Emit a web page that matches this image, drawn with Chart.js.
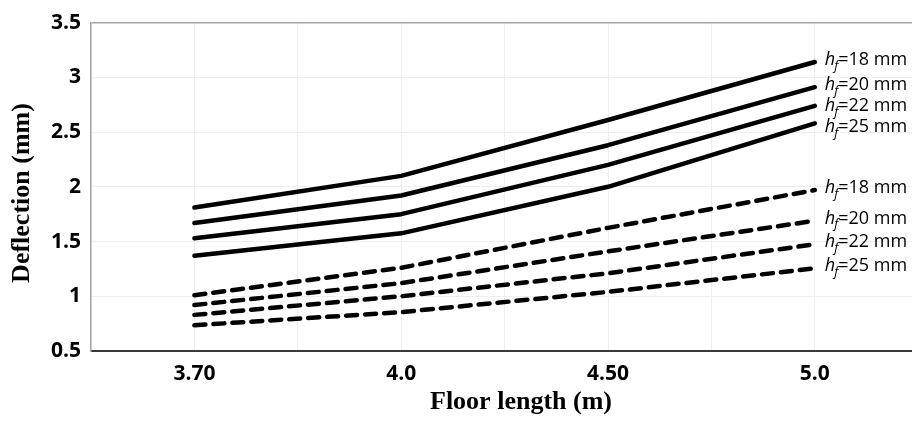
<!DOCTYPE html>
<html>
<head>
<meta charset="utf-8">
<script src="https://cdn.jsdelivr.net/npm/chart.js@4/dist/chart.umd.min.js"></script>
<style>
  html, body { margin: 0; padding: 0; background: #fff; overflow: hidden; }
  #wrap { width: 912px; height: 423px; }
</style>
</head>
<body>
<div id="wrap"><canvas id="chart" width="912" height="423"></canvas></div>
<script>
// floor lengths (x categories)
const lengths = ['3.70', '4.0', '4.50', '5.0'];
// floor thickness h_f for each line (mm)
const thickness = [18, 20, 22, 25];
const yTicks = [0.5, 1, 1.5, 2, 2.5, 3, 3.5];

// solid lines
const solid18 = [1.81, 2.10, 2.61, 3.14];
const solid20 = [1.67, 1.92, 2.38, 2.91];
const solid22 = [1.53, 1.75, 2.20, 2.74];
const solid25 = [1.37, 1.575, 2.00, 2.58];

// dashed lines
const dashed18 = [1.01, 1.26, 1.625, 1.97];
const dashed20 = [0.92, 1.12, 1.41, 1.69];
const dashed22 = [0.83, 1.00, 1.21, 1.475];
const dashed25 = [0.735, 0.855, 1.04, 1.255];

function makeSet(values, hf, dashed) {
    return {
        label: 'hf=' + hf + ' mm',
        hf: hf,
        data: values.map((v, i) => ({ x: i, y: v })),
        borderColor: '#000',
        borderWidth: 4.5,
        borderDash: dashed ? [11, 8] : [],
        borderCapStyle: 'round',
        borderJoinStyle: 'round',
        pointRadius: 0,
        tension: 0,
        fill: false
    };
}

const solidSets = [solid18, solid20, solid22, solid25];
const dashedSets = [dashed18, dashed20, dashed22, dashed25];
const datasets = [];
solidSets.forEach((s, i) => datasets.push(makeSet(s, thickness[i], false)));
dashedSets.forEach((s, i) => datasets.push(makeSet(s, thickness[i], true)));

// labels "h_f=.. mm" at the end of each line, pushed apart so they don't overlap
const endLabels = {
    id: 'endLabels',
    afterDatasetsDraw(chart) {
        const ctx = chart.ctx;
        const items = chart.data.datasets.map((ds, i) => {
            const pts = chart.getDatasetMeta(i).data;
            const p = pts[pts.length - 1];
            return { hf: ds.hf, x: p.x + 10, y: p.y - 2 };
        }).sort((a, b) => a.y - b.y);
        for (let i = 1; i < items.length; i++) {
            if (items[i].y - items[i - 1].y < 21) items[i].y = items[i - 1].y + 21;
        }
        ctx.save();
        ctx.fillStyle = '#000';
        ctx.textBaseline = 'middle';
        items.forEach(it => {
            let x = it.x;
            const y = it.y;
            ctx.font = 'italic 18px "Open Sans"';
            ctx.fillText('h', x, y);
            x += ctx.measureText('h').width;
            ctx.font = 'italic 13px "Open Sans"';
            ctx.fillText('f', x - 1, y + 6);
            x += ctx.measureText('f').width - 1;
            ctx.font = '18px "Open Sans"';
            ctx.fillText('=' + it.hf + ' mm', x, y);
        });
        ctx.restore();
    }
};

// axis titles
const axisTitles = {
    id: 'axisTitles',
    afterDraw(chart) {
        const ctx = chart.ctx;
        ctx.save();
        ctx.fillStyle = '#000';
        ctx.font = 'bold 26px "Liberation Serif"';
        ctx.textAlign = 'center';
        ctx.textBaseline = 'middle';
        ctx.fillText('Floor length (m)', 521, 402);
        ctx.translate(22, 193);
        ctx.rotate(-Math.PI / 2);
        ctx.fillText('Deflection (mm)', 0, 0);
        ctx.restore();
    }
};

new Chart(document.getElementById('chart'), {
    type: 'line',
    data: { datasets: datasets },
    plugins: [endLabels, axisTitles],
    options: {
        responsive: false,
        animation: false,
        layout: { padding: { top: 22, right: 0, left: 0, bottom: 0 } },
        plugins: { legend: { display: false }, tooltip: { enabled: false } },
        scales: {
            x: {
                type: 'linear',
                min: -0.5,
                max: 3.47,
                afterBuildTicks(scale) {
                    const t = [];
                    for (let v = -0.5; v <= 3; v += 0.5) t.push({ value: v });
                    scale.ticks = t;
                },
                afterFit(scale) { scale.height = 72; },
                border: { color: '#3a3a3a', width: 2 },
                grid: { color: '#eeeeee', lineWidth: 1, drawTicks: false },
                ticks: {
                    padding: 10,
                    color: '#000',
                    font: { family: 'Open Sans', weight: 'bold', size: 21 },
                    maxRotation: 0,
                    autoSkip: false,
                    callback: (v) => Number.isInteger(v) ? lengths[v] : ''
                }
            },
            y: {
                min: 0.5,
                max: 3.5,
                afterBuildTicks(scale) {
                    scale.ticks = yTicks.map(v => ({ value: v }));
                },
                afterFit(scale) { scale.width = 91; },
                border: { color: '#a6a6a6', width: 1.5 },
                grid: {
                    color: (c) => c.tick && c.tick.value === 3.5 ? '#a6a6a6' : '#eeeeee',
                    lineWidth: (c) => c.tick && c.tick.value === 3.5 ? 1.5 : 1,
                    drawTicks: false
                },
                ticks: {
                    padding: 10,
                    color: '#000',
                    font: { family: 'Open Sans', weight: 'bold', size: 21 },
                    callback: (v) => String(v)
                }
            }
        }
    }
});
</script>
</body>
</html>
